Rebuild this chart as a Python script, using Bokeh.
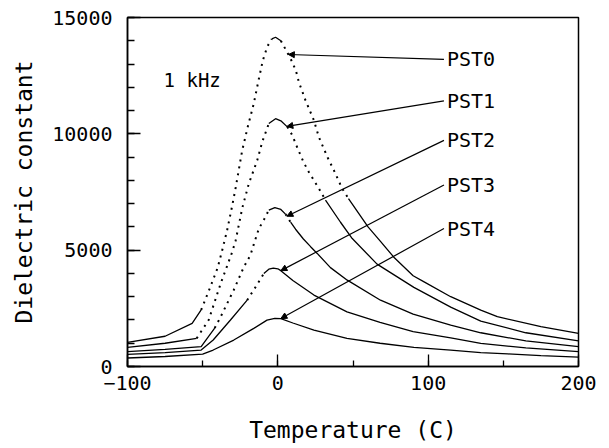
import numpy as np
from bokeh.plotting import figure
from bokeh.models import Range1d, FixedTicker, Label, Arrow, NormalHead
from bokeh.embed import file_html
from bokeh.resources import INLINE

# ---- data (temperature in C, dielectric constant) ----
pst0_t = [-100, -75, -57, -51, -45, -40, -37, -33.7, -30.3, -28, -23.7, -20, -16, -13, -10, -7, -4, -1.5,
          2, 5, 8.5, 12, 14, 18.4, 24, 27.3, 33, 37.3, 42.8, 47, 60, 68, 77, 90, 97, 115, 135, 146, 175, 200]
pst0_v = [1040, 1300, 1850, 2430, 3400, 4250, 5000, 5860, 6930, 7700, 9290, 10300, 11300, 12250, 13150, 13750,
          14080, 14150, 14000, 13650, 13230, 12720, 12220, 11440, 10580, 9860, 9000, 8430, 7650, 7220, 6000,
          5400, 4710, 3900, 3650, 3000, 2425, 2140, 1710, 1425]

pst1_t = [-100, -75, -54, -46, -38, -30.3, -28, -23.7, -19.3, -13.7, -10.4, -6, -1.5, 2, 6.3, 9.6, 13, 17,
          20.6, 24, 27.3, 31.7, 41.7, 49.5, 66, 90.5, 115, 135, 165, 200]
pst1_v = [824, 1000, 1210, 2000, 3570, 4930, 5430, 6800, 7860, 8860, 9650, 10440, 10650, 10560, 10300, 9940,
          9400, 8800, 8360, 8000, 7650, 7150, 6200, 5500, 4400, 3400, 2550, 1950, 1450, 1100]

pst2_t = [-100, -75, -51, -47, -42, -38, -29.3, -22.6, -18.2, -16, -12.6, -9.3, -6, -2, 2, 5.1, 8.5, 11.8,
          17, 21.8, 26.2, 35, 46.2, 68.3, 90, 115, 135, 165, 200]
pst2_v = [635, 740, 850, 1210, 1650, 2140, 3290, 4280, 4790, 5250, 5930, 6300, 6720, 6830, 6750, 6550, 6200,
          5900, 5480, 5150, 4860, 4250, 3710, 2850, 2250, 1780, 1450, 1100, 850]

pst3_t = [-100, -75, -51, -43, -31.5, -20.4, -14, -9.3, -6, -3, 0, 2, 10, 24, 46, 68, 90, 115, 135, 165, 200]
pst3_v = [524, 600, 708, 1137, 2000, 2850, 3500, 4000, 4180, 4230, 4200, 4120, 3700, 3070, 2350, 1900, 1500,
          1230, 996, 800, 635]

pst4_t = [-100, -75, -50, -43, -29.3, -16, -7.2, -2, 2, 10, 24, 46, 68, 90.5, 115, 135, 153, 175, 200]
pst4_v = [365, 430, 536, 708, 1137, 1640, 1995, 2070, 2060, 1870, 1566, 1210, 1000, 824, 700, 600, 540, 470, 400]

names = ["PST0", "PST1", "PST2", "PST3", "PST4"]
x_ticks = [-100, 0, 100, 200]
y_ticks = [0, 5000, 10000, 15000]

curves = [(pst0_t, pst0_v), (pst1_t, pst1_v), (pst2_t, pst2_v), (pst3_t, pst3_v), (pst4_t, pst4_v)]

# annotation placement (styling, not data)
label_x = 112.5
leader_x = 110.5
label_y = [13200, 11420, 9720, 7800, 5930]
tip_t = [7, 6, 6, 2, 2]

FW, FH = 451, 349
XMIN, XMAX, YMIN, YMAX = -100, 200, 0, 15000

p = figure(frame_width=FW, frame_height=FH,
           x_range=Range1d(XMIN, XMAX), y_range=Range1d(YMIN, YMAX),
           output_backend="svg", toolbar_location=None,
           min_border_left=127, min_border_right=31, min_border_top=17, min_border_bottom=80)
p.background_fill_color = "white"
p.border_fill_color = "white"
p.grid.visible = False
p.outline_line_color = "black"
p.outline_line_width = 1.5
p.outline_line_alpha = 1.0

# split each curve into steep (drawn dotted, like sparse data points) and flat (solid) runs
sx = FW / (XMAX - XMIN)
sy = FH / (YMAX - YMIN)
sol_xs, sol_ys, dot_xs, dot_ys = [], [], [], []
for t, v in curves:
    t = np.asarray(t, float)
    v = np.asarray(v, float)
    slope = np.abs(np.diff(v) * sy) / (np.diff(t) * sx)
    steep = slope > 1.5
    start = 0
    runs = []
    for i in range(1, len(steep)):
        if steep[i] != steep[start]:
            runs.append((start, i, steep[start]))
            start = i
    runs.append((start, len(steep), steep[start]))
    for a, b, s in runs:
        xs = list(t[a:b + 1])
        ys = list(v[a:b + 1])
        if s:
            dot_xs.append(xs); dot_ys.append(ys)
        else:
            sol_xs.append(xs); sol_ys.append(ys)

p.multi_line(sol_xs, sol_ys, line_color="black", line_width=1.3)
p.multi_line(dot_xs, dot_ys, line_color="black", line_width=2.0, line_dash="2 5")

# labels with leader lines
for (t, v), name, ly, tt in zip(curves, names, label_y, tip_t):
    ty = float(np.interp(tt, t, v))
    p.add_layout(Arrow(end=NormalHead(size=6, line_color="black", fill_color="black", line_width=1),
                       x_start=leader_x, y_start=ly, x_end=tt, y_end=ty,
                       line_color="black", line_width=1.2))
    p.add_layout(Label(x=label_x, y=ly, text=name, text_baseline="middle", text_align="left",
                       text_font="DejaVu Sans Mono", text_font_size="20px", text_color="black"))

p.add_layout(Label(x=-76, y=12300, text="1 kHz", text_baseline="alphabetic", text_align="left",
                   text_font="DejaVu Sans Mono", text_font_size="19px", text_color="black"))

# axes
p.xaxis.ticker = FixedTicker(ticks=x_ticks, minor_ticks=list(range(-100, 201, 50)))
p.yaxis.ticker = FixedTicker(ticks=y_ticks, minor_ticks=list(range(0, 15001, 1000)))
p.xaxis.axis_label = "Temperature (C)"
p.yaxis.axis_label = "Dielectric constant"
for ax in (p.xaxis[0], p.yaxis[0]):
    ax.axis_line_color = "black"
    ax.axis_line_width = 1.5
    ax.major_tick_out = 0
    ax.minor_tick_out = 0
    ax.major_tick_line_color = "black"
    ax.minor_tick_line_color = "black"
    ax.major_tick_line_width = 1.3
    ax.minor_tick_line_width = 1.3
    ax.major_label_text_font = "DejaVu Sans Mono"
    ax.major_label_text_font_size = "20px"
    ax.major_label_text_color = "black"
    ax.axis_label_text_font = "DejaVu Sans Mono"
    ax.axis_label_text_font_size = "23px"
    ax.axis_label_text_font_style = "normal"
    ax.axis_label_text_color = "black"
p.xaxis.major_tick_in = 12
p.xaxis.minor_tick_in = 6
p.yaxis.major_tick_in = 13
p.yaxis.minor_tick_in = 7
p.xaxis.major_label_standoff = 9
p.yaxis.major_label_standoff = 15
p.xaxis.axis_label_standoff = 24
p.yaxis.axis_label_standoff = 12

open("out.html", "w").write(file_html(p, INLINE))
